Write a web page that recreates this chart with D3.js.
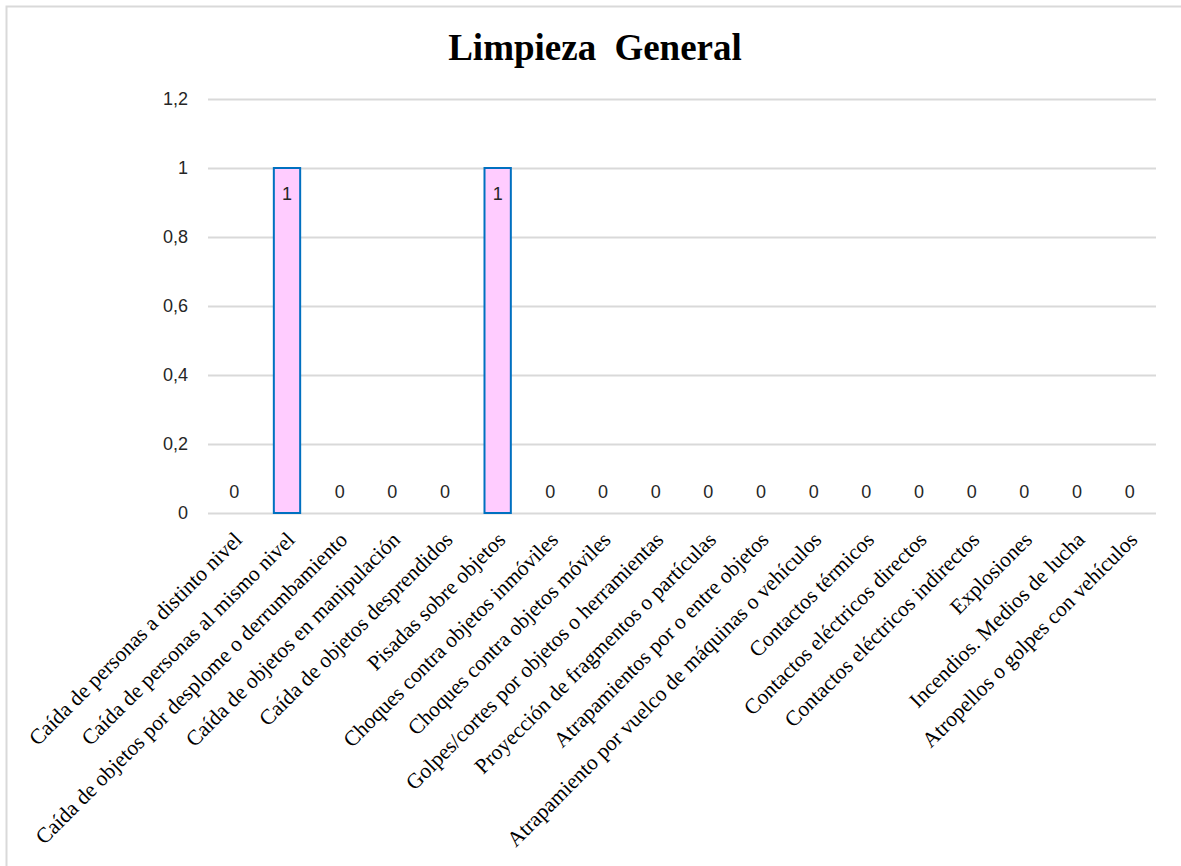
<!DOCTYPE html>
<html><head><meta charset="utf-8">
<script src="https://cdn.jsdelivr.net/npm/d3@7"></script>
<style>body{margin:0;background:#fff}svg{display:block}</style>
</head><body>
<script>
const title = "Limpieza General";
const categories = [
  "Caída de personas a distinto nivel",
  "Caída de personas al mismo nivel",
  "Caída de objetos por desplome o derrumbamiento",
  "Caída de objetos en manipulación",
  "Caída de objetos desprendidos",
  "Pisadas sobre objetos",
  "Choques contra objetos inmóviles",
  "Choques contra objetos móviles",
  "Golpes/cortes por objetos o herramientas",
  "Proyección de fragmentos o partículas",
  "Atrapamientos por o entre objetos",
  "Atrapamiento por vuelco de máquinas o vehículos",
  "Contactos térmicos",
  "Contactos eléctricos directos",
  "Contactos eléctricos indirectos",
  "Explosiones",
  "Incendios. Medios de lucha",
  "Atropellos o golpes con vehículos"
];
const values = [0,1,0,0,0,1,0,0,0,0,0,0,0,0,0,0,0,0];
const yTicks = [0,0.2,0.4,0.6,0.8,1,1.2];

(function(){
const W = 1181, H = 866;
const svg = d3.select("body").append("svg").attr("width", W).attr("height", H);
svg.append("rect").attr("x",6.5).attr("y",6.5).attr("width",1185).attr("height",880)
  .attr("fill","#fff").attr("stroke","#d9d9d9").attr("stroke-width",2);

const pLeft = 208, pRight = 1156, pTop = 99, pBottom = 513;
const x = d3.scaleBand().domain(categories).range([pLeft,pRight]).paddingInner(0.5).paddingOuter(0.25);
const y = d3.scaleLinear().domain([0,1.2]).range([pBottom, pTop]);

svg.append("text").attr("x",595).attr("y",60).attr("text-anchor","middle")
  .attr("font-family","'Liberation Serif', serif").attr("font-weight","bold")
  .attr("font-size",37).style("word-spacing","9px").attr("fill","#000").text(title);

const fmt = d => String(d).replace(".", ",");
const yAxis = svg.append("g").attr("transform",`translate(${pLeft},0)`)
  .call(d3.axisLeft(y).tickValues(yTicks).tickSize(-(pRight-pLeft)).tickFormat(fmt));
yAxis.select(".domain").remove();
yAxis.selectAll(".tick line").attr("stroke","#d9d9d9").attr("stroke-width",2);
yAxis.selectAll(".tick text").attr("x",-20).attr("font-family","'Liberation Sans', Arial, sans-serif")
  .attr("font-size",18).attr("fill","#262626");

svg.selectAll("rect.bar").data(values).join("rect").attr("class","bar")
  .attr("x",(d,i)=>x(categories[i])).attr("width",x.bandwidth())
  .attr("y",d=>y(d)).attr("height",d=>y(0)-y(d))
  .attr("fill","#FFCCFF").attr("stroke","#0070C0").attr("stroke-width",2)
  .attr("display",d=>d>0?null:"none");

svg.selectAll("text.lbl").data(values).join("text").attr("class","lbl")
  .attr("x",(d,i)=>x(categories[i])+x.bandwidth()/2)
  .attr("y",d=>d>0? y(d)+32 : y(0)-15)
  .attr("text-anchor","middle")
  .attr("font-family","'Liberation Sans', Arial, sans-serif").attr("font-size",18).attr("fill","#262626")
  .text(d=>d);

const xAxis = svg.append("g").attr("transform",`translate(0,${pBottom})`)
  .call(d3.axisBottom(x).tickSize(0));
xAxis.select(".domain").remove();
xAxis.selectAll(".tick text")
  .attr("font-family","'Liberation Serif', serif").attr("font-size",21.6).attr("fill","#000")
  .attr("text-anchor","end").attr("dy",null).attr("y",0)
  .attr("transform","translate(9,28) rotate(-45)");
})();
</script>
</body></html>
